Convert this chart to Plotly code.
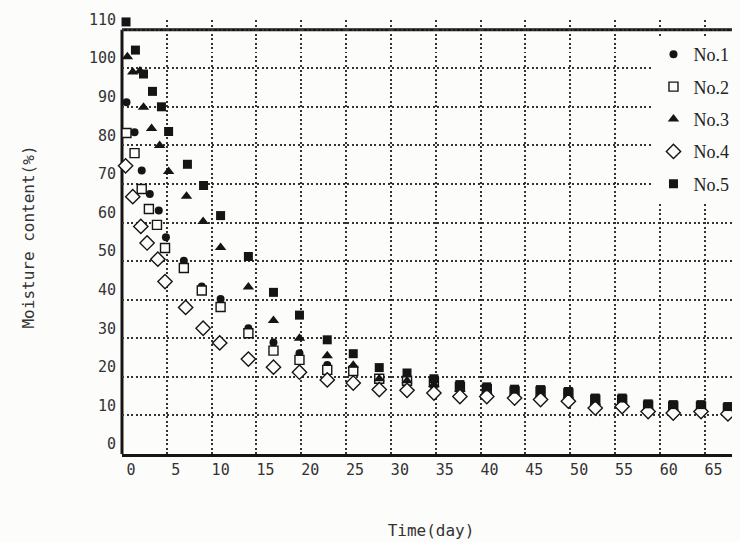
import plotly.graph_objects as go

# ---------------- data ----------------
LATE_DAYS = [34.8, 37.7, 40.7, 43.8, 46.7, 49.8, 52.8, 55.8, 58.7, 61.5, 64.6, 67.6]

days_no1 = [0.5, 1.4, 2.2, 3.1, 4.1, 4.9, 6.9, 8.9, 11.0, 14.1, 16.9, 19.8, 22.9, 25.8, 28.7, 31.8] + LATE_DAYS
vals_no1 = [91.2, 83.4, 73.5, 67.4, 63.1, 56.2, 50.1, 43.4, 40.2, 32.6, 28.9, 26.1, 23.1, 22.3, 19.0, 18.2,
            17.6, 16.6, 16.0, 15.5, 15.3, 15.0, 13.3, 13.3, 12.0, 11.7, 11.8, 11.3]

days_no2 = [0.5, 1.4, 2.2, 3.0, 3.9, 4.8, 6.9, 8.9, 11.0, 14.1, 16.9, 19.8, 22.9, 25.8, 28.7, 31.8] + LATE_DAYS
vals_no2 = [83.2, 78.0, 68.7, 63.5, 59.4, 53.4, 48.2, 42.4, 38.1, 31.3, 26.8, 24.4, 21.8, 21.5, 19.5, 19.0,
            18.6, 17.4, 16.8, 16.2, 16.2, 15.7, 14.0, 14.0, 12.5, 12.3, 12.3, 11.8]

days_no3 = [0.6, 1.2, 2.0, 2.4, 3.3, 4.2, 5.2, 7.2, 9.05, 11.0, 14.1, 16.9, 19.8, 22.9, 25.8, 28.7, 31.8] + LATE_DAYS
vals_no3 = [103.0, 99.0, 99.3, 89.9, 84.4, 80.0, 73.2, 66.8, 60.3, 53.5, 43.3, 34.6, 30.0, 25.5, 23.0, 19.5, 19.0,
            18.0, 16.8, 16.2, 15.6, 15.5, 15.1, 13.4, 13.4, 12.1, 11.9, 11.9, 11.4]

days_no4 = [0.4, 1.2, 2.1, 2.8, 4.0, 4.8, 7.1, 9.05, 10.9, 14.1, 16.9, 19.8, 22.9, 25.8, 28.7, 31.8] + LATE_DAYS
vals_no4 = [74.7, 66.7, 59.0, 54.7, 50.5, 44.7, 38.0, 32.6, 28.8, 24.6, 22.5, 21.2, 19.2, 18.4, 16.7, 16.5,
            15.8, 14.9, 14.9, 14.5, 14.1, 13.7, 11.9, 12.3, 11.0, 10.6, 11.0, 10.4]

days_no5 = [0.45, 1.5, 2.4, 3.4, 4.4, 5.2, 7.3, 9.1, 11.0, 14.1, 16.9, 19.8, 22.9, 25.8, 28.7, 31.8] + LATE_DAYS
vals_no5 = [112.0, 104.7, 98.5, 94.0, 90.0, 83.6, 75.1, 69.6, 61.8, 51.2, 41.9, 36.0, 29.6, 26.0, 22.4, 21.0,
            19.5, 18.0, 17.4, 16.8, 16.7, 16.2, 14.5, 14.5, 13.0, 12.8, 12.8, 12.3]

SERIES_NAMES = ["No.1", "No.2", "No.3", "No.4", "No.5"]
X_TICKS = [0, 5, 10, 15, 20, 25, 30, 35, 40, 45, 50, 55, 60, 65]
X_TICK_LABELS = ["0", "5", "10", "15", "20", "25", "30", "35", "40", "45", "50", "55", "60", "65"]
Y_TICKS = [0, 10, 20, 30, 40, 50, 60, 70, 80, 90, 100, 110]
Y_TICK_LABELS = ["0", "10", "20", "30", "40", "50", "60", "70", "80", "90", "100", "110"]
X_TITLE = "Time(day)"
Y_TITLE = "Moisture content(%)"

# ---------------- styling ----------------
INK = "#151515"
BG = "#fcfcfb"
MONO = "DejaVu Sans Mono"
Y_FRAME_TOP = Y_TICKS[-1]          # the frame closes at the last y tick
Y_VIEW_TOP = 112.5                 # a little headroom so the first No.5 point stays visible

styles = [
    dict(symbol="circle", size=8, color=INK, line=dict(width=0)),
    dict(symbol="square", size=9, color=BG, line=dict(width=1.4, color=INK)),
    dict(symbol="triangle-up", size=10, color=INK, line=dict(width=0)),
    dict(symbol="diamond", size=11, color=BG, line=dict(width=1.4, color=INK)),
    dict(symbol="square", size=9, color=INK, line=dict(width=0)),
]
xs = [days_no1, days_no2, days_no3, days_no4, days_no5]
ys = [vals_no1, vals_no2, vals_no3, vals_no4, vals_no5]

fig = go.Figure()
for name, x, y, st in zip(SERIES_NAMES, xs, ys, styles):
    fig.add_trace(go.Scatter(
        x=x, y=y, mode="markers", name=name, marker=st,
        cliponaxis=False, legendgroup=name,
    ))

grid_common = dict(showgrid=True, gridcolor="#333333", gridwidth=1.6, griddash="2px,2.5px",
                   zeroline=False, ticks="")

# mask the grid above the frame, then draw the top and left frame lines (below the markers)
fig.add_shape(type="rect", xref="paper", yref="y", x0=0, x1=1, y0=Y_FRAME_TOP, y1=Y_VIEW_TOP,
              fillcolor=BG, line=dict(width=0), layer="between")
fig.add_shape(type="line", xref="paper", yref="y", x0=0, x1=1, y0=Y_FRAME_TOP, y1=Y_FRAME_TOP,
              line=dict(color=INK, width=3), layer="between")
fig.add_shape(type="line", xref="paper", yref="y", x0=0, x1=0, y0=0, y1=Y_FRAME_TOP,
              line=dict(color=INK, width=3), layer="between")

# the page body adds an 8px offset, so the figure is 8px smaller than the window
fig.update_layout(
    width=732, height=534,
    margin=dict(l=114, r=0, t=12.4, b=88),
    paper_bgcolor=BG, plot_bgcolor=BG,
    showlegend=True,
    legend=dict(
        x=0.86, y=0.963, xanchor="left", yanchor="top",
        bgcolor=BG, borderwidth=0,
        font=dict(family="Liberation Serif", size=18, color="#222"),
        tracegroupgap=6, itemwidth=30,
    ),
    xaxis=dict(
        range=[0, 68.95], tickvals=X_TICKS, ticktext=X_TICK_LABELS,
        showline=True, linecolor=INK, linewidth=3, mirror=False,
        ticklabelshift=9, automargin=False,
        tickfont=dict(family=MONO, size=15, color="#333"),
        title=dict(text=X_TITLE, font=dict(family=MONO, size=16, color="#333"), standoff=47),
        **grid_common,
    ),
    yaxis=dict(
        range=[0, Y_VIEW_TOP], tickvals=Y_TICKS, ticktext=Y_TICK_LABELS,
        showline=False, mirror=False,
        ticklabelshift=-10, ticklabelstandoff=5, automargin=False,
        tickfont=dict(family=MONO, size=15, color="#333"),
        title=dict(text=Y_TITLE, font=dict(family=MONO, size=16, color="#333"), standoff=50),
        **grid_common,
    ),
)

fig.write_html("out.html", post_script="document.body.style.background='#fcfcfb';")
